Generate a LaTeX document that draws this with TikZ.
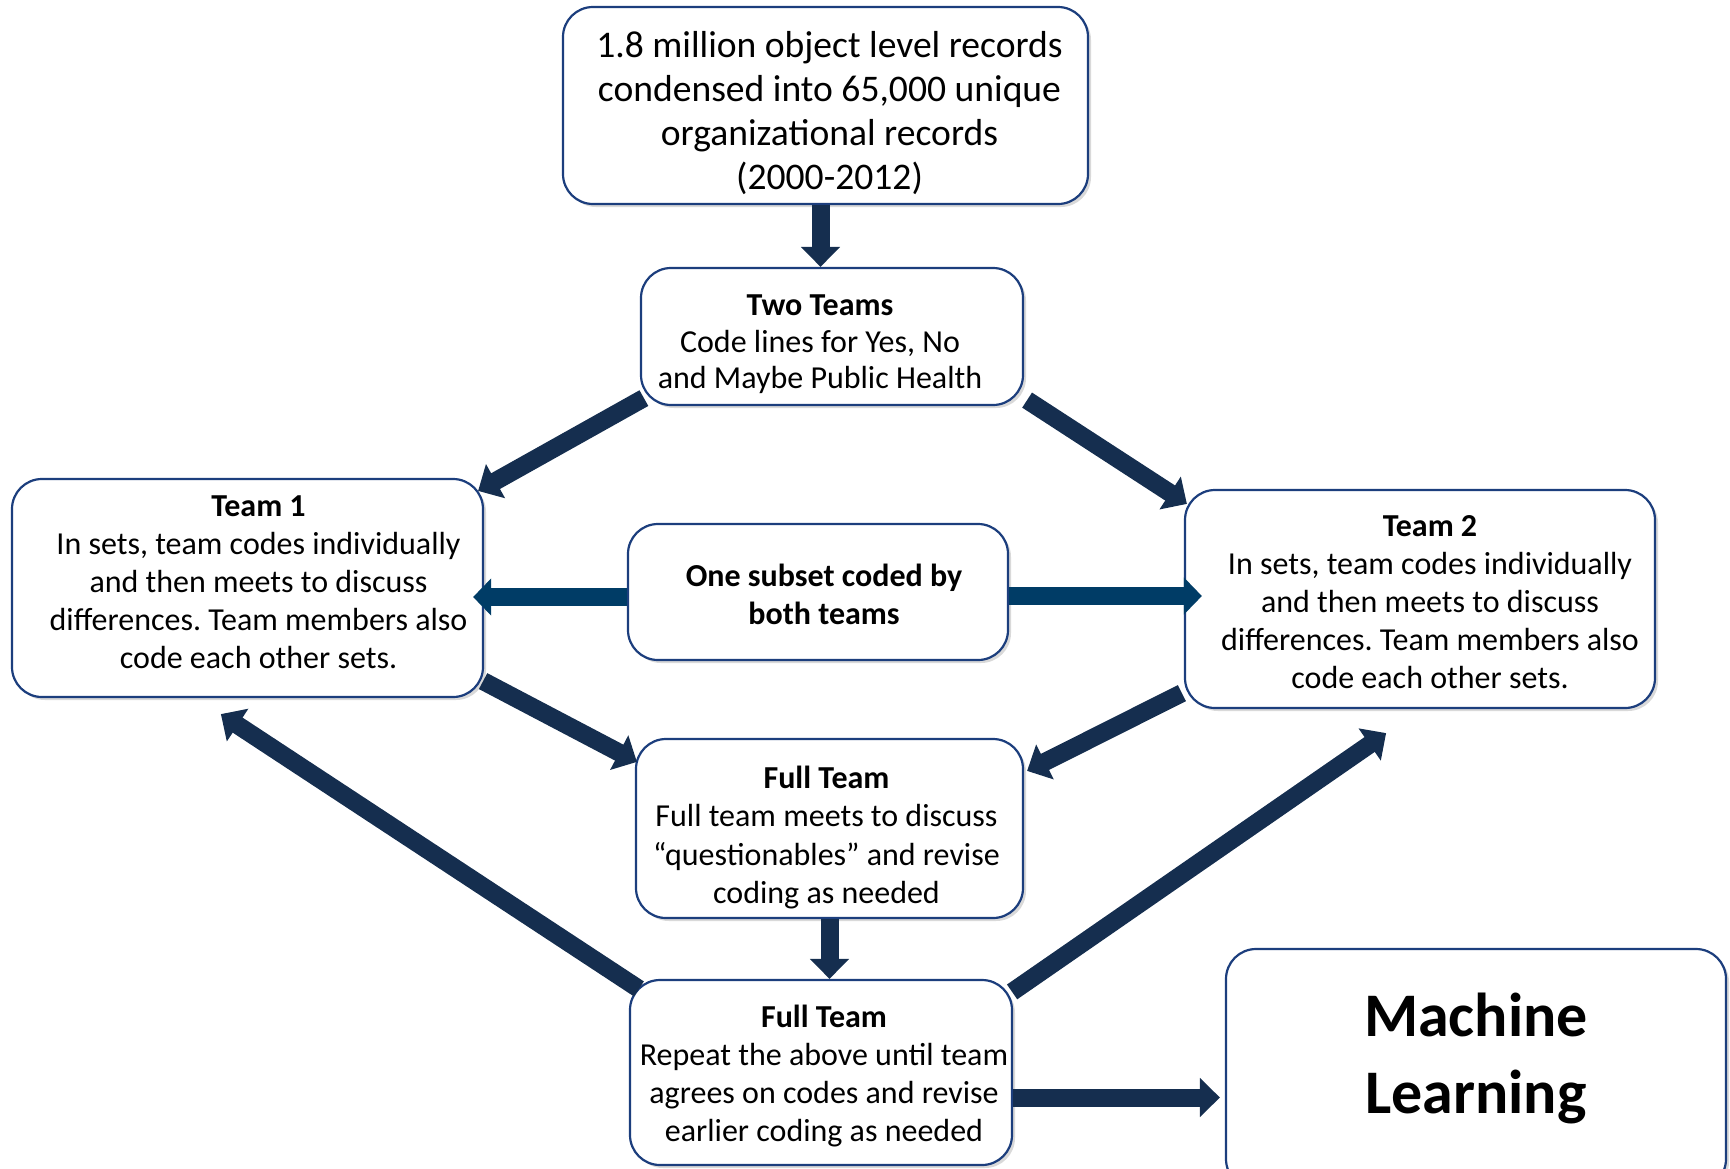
\documentclass[tikz,border=0pt]{standalone}
\usepackage{fontspec}
\setmainfont{Carlito}
\usetikzlibrary{arrows.meta,calc,shadows}
\definecolor{boxline}{RGB}{28,62,125}
\definecolor{arrnavy}{RGB}{21,46,79}
\definecolor{arrblue}{RGB}{0,60,102}
\frenchspacing
\begin{document}
\begin{tikzpicture}[x=0.5pt,y=-0.5pt,
  box/.style={draw=boxline, line width=1.1pt, rounded corners=15pt, fill=white,
    inner sep=0pt,
    drop shadow={opacity=0.3, shadow xshift=1.5pt, shadow yshift=-1.5pt}},
  lbl/.style={align=center, inner sep=0pt, font=\fontsize{16}{19}\selectfont},
  arr/.style={line width=9pt, draw=arrnavy, -{Triangle[width=19pt,length=10pt]}},
  arrb/.style={line width=9pt, draw=arrblue, -{Triangle[width=18pt,length=9pt]}},
]
\useasboundingbox (0,0) rectangle (1730,1168);

% boxes
\node[box, minimum width=262.5pt, minimum height=98.5pt] (top) at (825.5,105.5) {};
\node[box, minimum width=191pt, minimum height=68.5pt] (tt) at (832,336.5) {};
\node[box, minimum width=235.5pt, minimum height=109pt] (t1) at (247.5,588) {};
\node[box, minimum width=190pt, minimum height=68pt] (sub) at (818,592) {};
\node[box, minimum width=235pt, minimum height=109pt] (t2) at (1420,599) {};
\node[box, minimum width=193.5pt, minimum height=89.5pt] (f1) at (829.5,828.5) {};
\node[box, minimum width=191pt, minimum height=92.5pt] (f2) at (821,1072.5) {};
\node[box, minimum width=250pt, minimum height=120pt] (ml) at (1476,1069) {};

% texts
\node[lbl, font=\fontsize{18.8}{22}\selectfont] (top-t) at ($(top)+(4,8)$)
  {1.8 million object level records\\condensed into 65,000 unique\\organizational records\\(2000-2012)};
\node[lbl, font=\fontsize{16}{18.3}\selectfont] (tt-t) at ($(tt)+(-12,8)$)
  {\textbf{Two Teams}\\Code lines for Yes, No\\and Maybe Public Health};
\node[lbl] (t1-t) at ($(t1)+(11,-6)$)
  {\textbf{Team 1}\\In sets, team codes individually\\and then meets to discuss\\differences. Team members also\\code each other sets.};
\node[lbl] (sub-t) at ($(sub)+(6,2)$)
  {\textbf{One subset coded by}\\\textbf{both teams}};
\node[lbl] (t2-t) at ($(t2)+(10,3)$)
  {\textbf{Team 2}\\In sets, team codes individually\\and then meets to discuss\\differences. Team members also\\code each other sets.};
\node[lbl, font=\fontsize{16}{19.2}\selectfont] (f1-t) at ($(f1)+(-3,9)$)
  {\textbf{Full Team}\\Full team meets to discuss\\“questionables” and revise\\coding as needed};
\node[lbl] (f2-t) at ($(f2)+(3,4)$)
  {\textbf{Full Team}\\Repeat the above until team\\agrees on codes and revise\\earlier coding as needed};
\node[lbl, font=\fontsize{31}{38.5}\selectfont\bfseries] (ml-t) at (1476,1058)
  {Machine\\Learning};

% connectors
\coordinate (a1) at ($(top.south)+(-5,0)$);
\draw[arr] (a1) -- (a1 |- tt.north);
\draw[arr] ($(tt.south west)+(4,-8)$) -- ($(t1.north east)+(-6,13)$);
\draw[arr] ($(tt.south east)+(3,-6)$) -- ($(t2.north west)+(3,15)$);
\draw[arrb] ($(sub.west)+(0,5)$) -- ($(t1.east)+(-11,9)$);
\draw[arrb] ($(sub.east)+(0,4)$) -- ($(t2.west)+(18,-3)$);
\draw[arr] ($(t1.south east)+(-1,-17)$) -- ($(f1.north west)+(2,24)$);
\draw[arr] ($(t2.south west)+(-2,-16)$) -- ($(f1.north east)+(3,33)$);
\draw[arr] (f1.south) -- (f1.south |- f2.north);
\draw[arr] ($(f2.north west)+(10,10)$) -- ($(t1.south west)+(210,16)$);
\draw[arr] ($(f2.north east)+(-1,13)$) -- ($(t2.south east)+(-270,24)$);
\coordinate (a11) at ($(f2.east)+(0,25)$);
\draw[arr] (a11) -- ($(a11 -| ml.west)+(-5,0)$);
\end{tikzpicture}
\end{document}
